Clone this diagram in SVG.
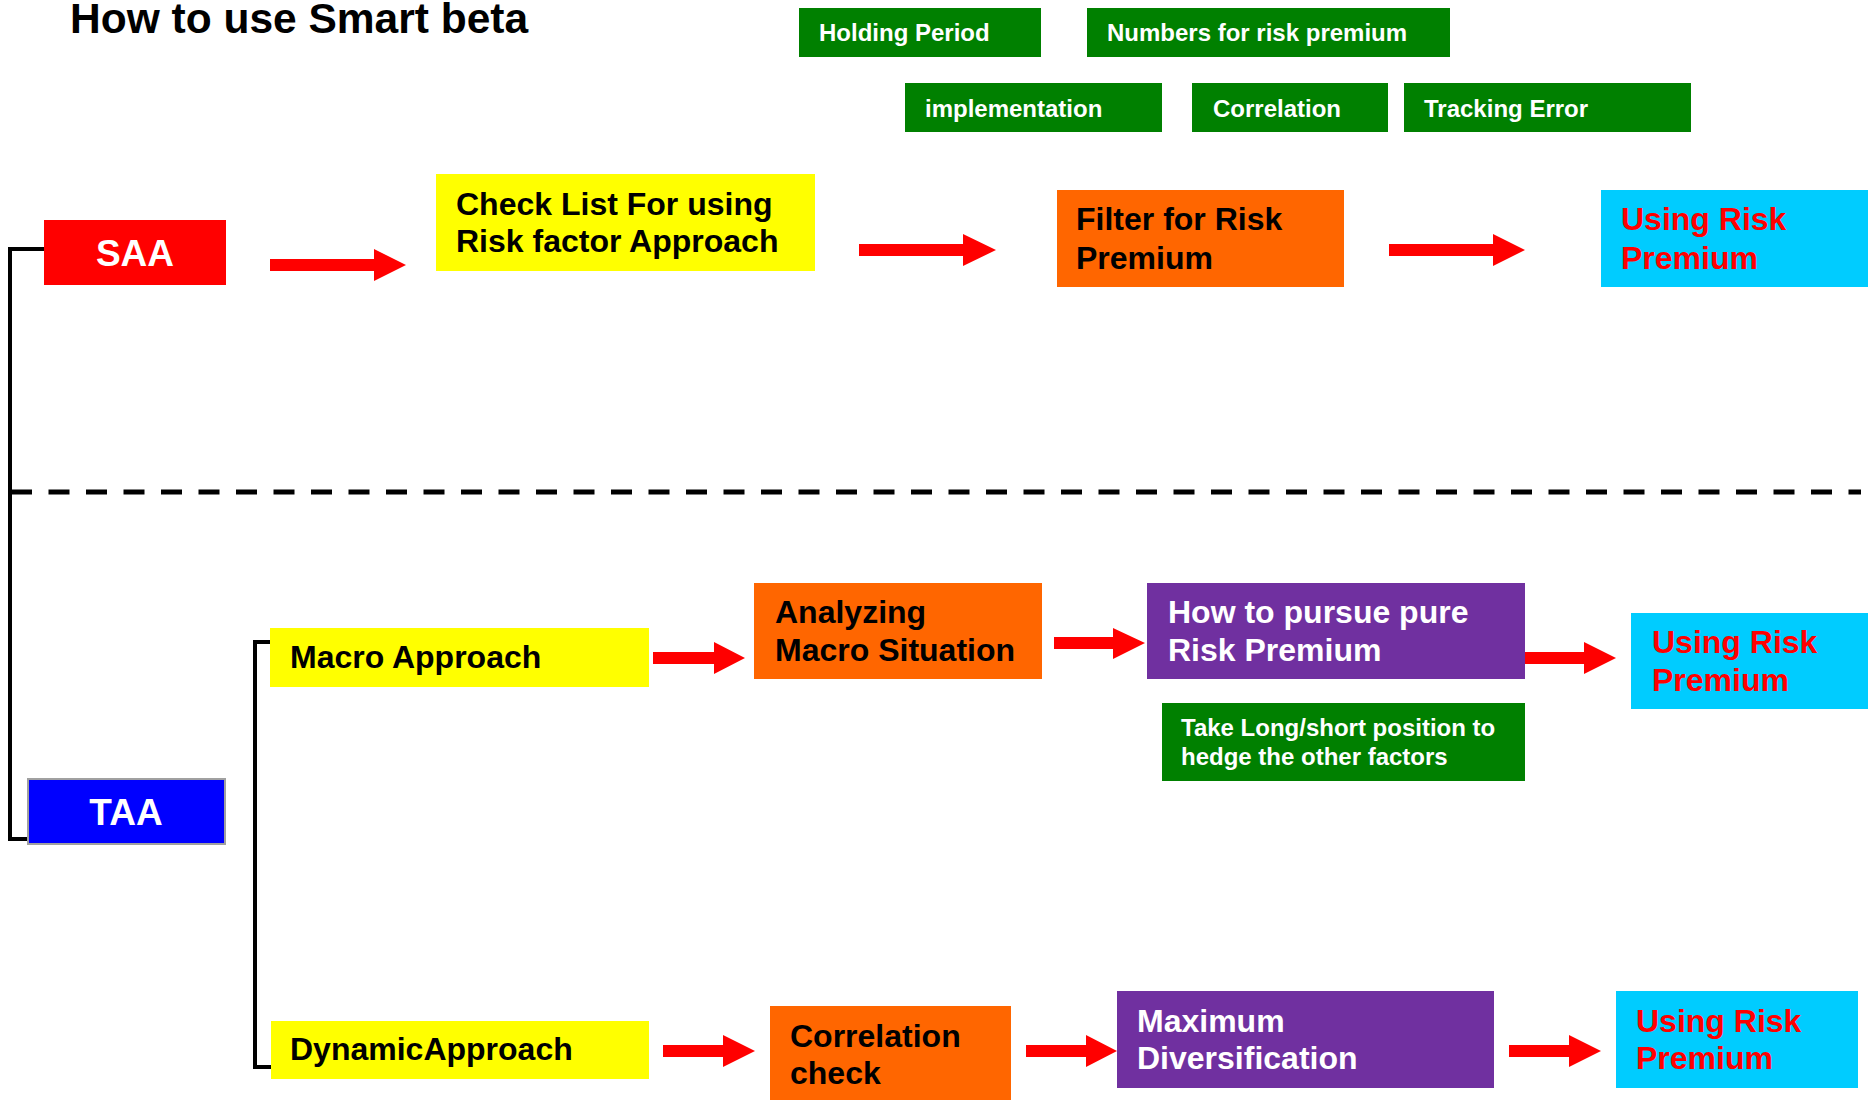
<svg xmlns="http://www.w3.org/2000/svg" width="1868" height="1100" viewBox="0 0 1868 1100">
<style>
text{font-family:"Liberation Sans",Arial,sans-serif;font-weight:bold}
.t32{font-size:32px}
.g{font-size:24px;fill:#FFFFFF}
.blk{fill:#000000}
.wht{fill:#FFFFFF}
.red{fill:#FF0000}
.arr{fill:#FF0000}
.ln{stroke:#000000;stroke-width:4;fill:none}
</style>
<rect width="1868" height="1100" fill="#FFFFFF"/>
<text x="70" y="33" style="font-size:42.5px" class="blk">How to use Smart beta</text>

<g id="connectors">
<polyline class="ln" points="44,249 10,249 10,839 40,839"/>
<polyline class="ln" points="270,642 255,642 255,1067 271,1067"/>
<line x1="11" y1="492" x2="1861" y2="492" stroke="#000000" stroke-width="5" stroke-dasharray="21 16.5"/>
<polygon class="arr" points="270,259 374,259 374,249 406,265 374,281 374,271 270,271"/>
<polygon class="arr" points="859,244 963,244 963,234 996,250 963,266 963,256 859,256"/>
<polygon class="arr" points="1389,244 1493,244 1493,234 1525,250 1493,266 1493,256 1389,256"/>
<polygon class="arr" points="653,652 714,652 714,642 745,658 714,674 714,664 653,664"/>
<polygon class="arr" points="1054,637 1113,637 1113,628 1145,643 1113,659 1113,649 1054,649"/>
<polygon class="arr" points="1525,652 1584,652 1584,642 1616,658 1584,674 1584,664 1525,664"/>
<polygon class="arr" points="663,1045 723,1045 723,1035 755,1051 723,1067 723,1057 663,1057"/>
<polygon class="arr" points="1026,1045 1086,1045 1086,1035 1117,1051 1086,1067 1086,1057 1026,1057"/>
<polygon class="arr" points="1509,1045 1569,1045 1569,1035 1601,1051 1569,1067 1569,1057 1509,1057"/>
</g>

<g id="holding-period">
<rect x="799" y="8" width="242" height="49" fill="#008000"/>
<text x="819" y="41" class="g">Holding Period</text>
</g>
<g id="numbers-risk-premium">
<rect x="1087" y="8" width="363" height="49" fill="#008000"/>
<text x="1107" y="41" class="g">Numbers for risk premium</text>
</g>
<g id="implementation">
<rect x="905" y="83" width="257" height="49" fill="#008000"/>
<text x="925" y="117" class="g">implementation</text>
</g>
<g id="correlation">
<rect x="1192" y="83" width="196" height="49" fill="#008000"/>
<text x="1213" y="117" class="g">Correlation</text>
</g>
<g id="tracking-error">
<rect x="1404" y="83" width="287" height="49" fill="#008000"/>
<text x="1424" y="117" class="g">Tracking Error</text>
</g>

<g id="saa">
<rect x="44" y="220" width="182" height="65" fill="#FF0000"/>
<text x="135" y="266" text-anchor="middle" style="font-size:37px" class="wht">SAA</text>
</g>
<g id="check-list">
<rect x="436" y="174" width="379" height="97" fill="#FFFF00"/>
<text x="456" y="215" class="t32 blk">Check List For using</text>
<text x="456" y="252" class="t32 blk">Risk factor Approach</text>
</g>
<g id="filter">
<rect x="1057" y="190" width="287" height="97" fill="#FF6600"/>
<text x="1076" y="230" class="t32 blk">Filter for Risk</text>
<text x="1076" y="269" class="t32 blk">Premium</text>
</g>
<g id="using-1">
<rect x="1601" y="190" width="267" height="97" fill="#00CCFF"/>
<text x="1621" y="230" class="t32 red">Using Risk</text>
<text x="1621" y="269" class="t32 red">Premium</text>
</g>

<g id="taa">
<rect x="28" y="779" width="197" height="65" fill="#0000FF" stroke="#A0A0A0" stroke-width="2"/>
<text x="126" y="825" text-anchor="middle" style="font-size:37px" class="wht">TAA</text>
</g>
<g id="macro-approach">
<rect x="270" y="628" width="379" height="59" fill="#FFFF00"/>
<text x="290" y="668" class="t32 blk">Macro Approach</text>
</g>
<g id="analyzing">
<rect x="754" y="583" width="288" height="96" fill="#FF6600"/>
<text x="775" y="623" class="t32 blk">Analyzing</text>
<text x="775" y="661" class="t32 blk">Macro Situation</text>
</g>
<g id="pursue">
<rect x="1147" y="583" width="378" height="96" fill="#7030A0"/>
<text x="1168" y="623" class="t32 wht">How to pursue pure</text>
<text x="1168" y="661" class="t32 wht">Risk Premium</text>
</g>
<g id="long-short">
<rect x="1162" y="703" width="363" height="78" fill="#008000"/>
<text x="1181" y="736" class="g">Take Long/short position to</text>
<text x="1181" y="765" class="g">hedge the other factors</text>
</g>
<g id="using-2">
<rect x="1631" y="613" width="237" height="96" fill="#00CCFF"/>
<text x="1652" y="653" class="t32 red">Using Risk</text>
<text x="1652" y="691" class="t32 red">Premium</text>
</g>

<g id="dynamic-approach">
<rect x="271" y="1021" width="378" height="58" fill="#FFFF00"/>
<text x="290" y="1060" class="t32 blk">DynamicApproach</text>
</g>
<g id="correlation-check">
<rect x="770" y="1006" width="241" height="94" fill="#FF6600"/>
<text x="790" y="1047" class="t32 blk">Correlation</text>
<text x="790" y="1084" class="t32 blk">check</text>
</g>
<g id="max-div">
<rect x="1117" y="991" width="377" height="97" fill="#7030A0"/>
<text x="1137" y="1032" class="t32 wht">Maximum</text>
<text x="1137" y="1069" class="t32 wht">Diversification</text>
</g>
<g id="using-3">
<rect x="1616" y="991" width="242" height="97" fill="#00CCFF"/>
<text x="1636" y="1032" class="t32 red">Using Risk</text>
<text x="1636" y="1069" class="t32 red">Premium</text>
</g>
</svg>
